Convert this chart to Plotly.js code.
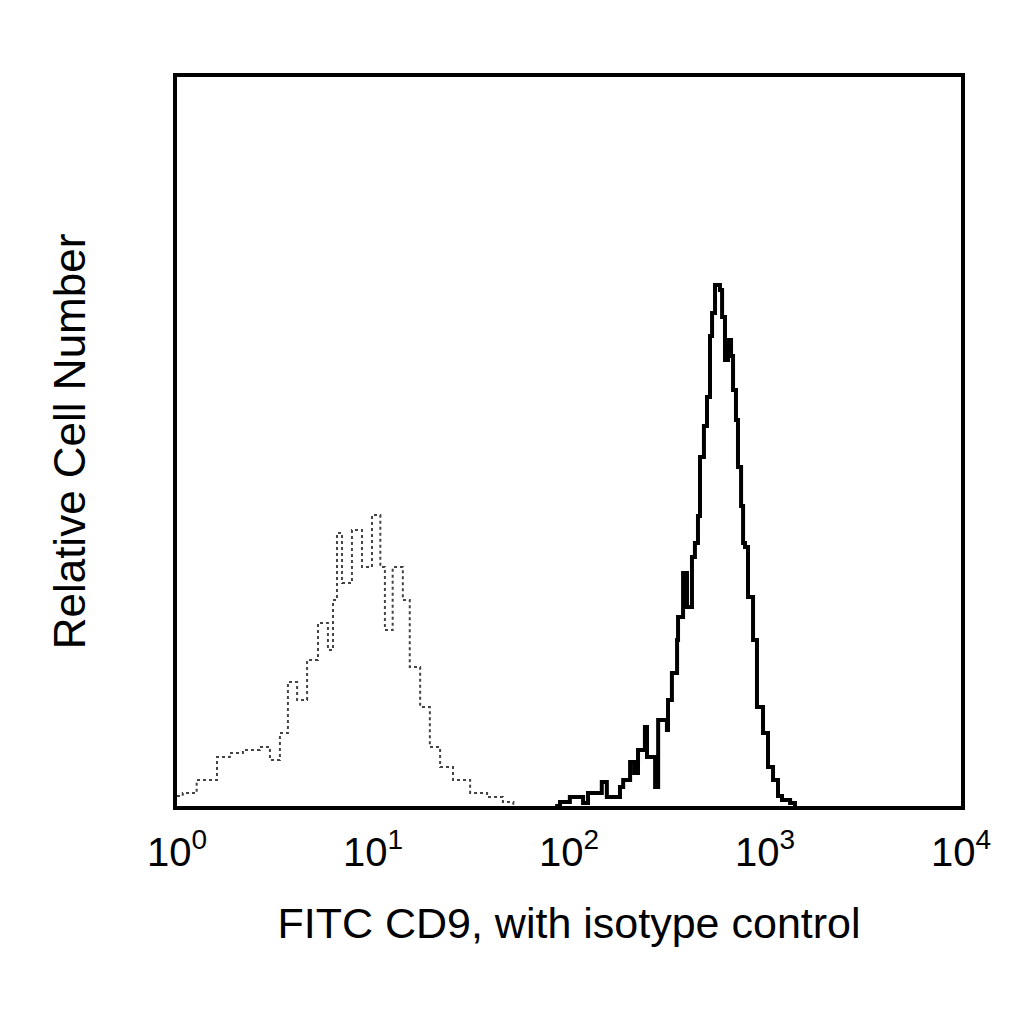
<!DOCTYPE html>
<html>
<head>
<meta charset="utf-8">
<script src="https://cdn.plot.ly/plotly-3.0.1.min.js"></script>
<style>
  body { margin: 0; background: #fff; }
  #chart { width: 1024px; height: 1024px; }
</style>
</head>
<body>
<div id="chart"></div>
<script>
// isotype control (grey, dotted)
var isoX = [1.0, 1.07, 1.26, 1.60, 1.86, 2.17, 2.65, 2.98, 3.35, 3.68, 4.10, 4.61, 5.24, 5.89,
            6.25, 6.55, 6.95, 7.81, 8.79, 9.88, 10.9, 11.5, 12.6, 14.2, 15.4, 17.4, 19.5, 22.0,
            25.6, 31.3, 38.2, 46.0, 52.0];
var isoY = [10, 13, 26, 49, 53, 56, 59, 46, 73, 124, 106, 146, 183, 156,
            206, 273, 223, 276, 239, 291, 239, 176, 239, 206, 139, 99, 59, 39,
            26, 13, 9, 4, 0];

// FITC CD9 (black)
var cd9X = [85, 90, 101, 118, 125, 147, 156, 182, 189, 205, 215, 225, 244, 250, 275, 285, 316,
            320, 335, 356, 360, 382, 400, 424, 439, 455, 466, 488, 506, 524, 537, 556, 589,
            604, 625, 648, 671, 687, 711, 728, 755, 773, 791, 819, 869, 910, 977, 1036,
            1099, 1165, 1221, 1343, 1422];
var cd9Y = [0, 4, 9, 3, 13, 24, 9, 19, 26, 44, 33, 56, 79, 49, 19, 86, 76,
            106, 133, 166, 189, 233, 199, 249, 263, 290, 349, 380, 409, 470, 493, 521, 516,
            489, 446, 466, 450, 416, 386, 339, 300, 263, 259, 209, 166, 99, 73, 39,
            26, 10, 6, 3, 0];

var tickVals = [1, 10, 100, 1000, 10000];
var tickText = ['10<sup>0</sup>', '10<sup>1</sup>', '10<sup>2</sup>', '10<sup>3</sup>', '10<sup>4</sup>'];

var isoTrace = {
  x: isoX, y: isoY, type: 'scatter', mode: 'lines',
  line: { color: '#444', width: 2, dash: 'dot', shape: 'hv' },
  hoverinfo: 'skip'
};
var cd9Trace = {
  x: cd9X, y: cd9Y, type: 'scatter', mode: 'lines',
  line: { color: '#000', width: 4, shape: 'hv' },
  hoverinfo: 'skip'
};

var layout = {
  width: 1024, height: 1024,
  margin: { l: 177, r: 63, t: 77, b: 218 },
  paper_bgcolor: '#fff', plot_bgcolor: '#fff',
  showlegend: false,
  font: { family: 'Liberation Sans, Arial, sans-serif', color: '#000' },
  xaxis: {
    type: 'log', range: [0, 4],
    tickvals: tickVals, ticktext: tickText,
    tickfont: { size: 40 }, ticks: '', ticklabelstandoff: 8,
    showgrid: false, zeroline: false,
    showline: true, mirror: true, linecolor: '#000', linewidth: 4,
    title: { text: 'FITC CD9, with isotype control', font: { size: 43 }, standoff: 36 }
  },
  yaxis: {
    range: [0, 729],
    showticklabels: false, ticks: '',
    showgrid: false, zeroline: false,
    showline: true, mirror: true, linecolor: '#000', linewidth: 4,
    title: { text: 'Relative Cell Number', font: { size: 44 }, standoff: 75 }
  }
};

Plotly.newPlot('chart', [isoTrace, cd9Trace], layout, { displayModeBar: false, staticPlot: true });
</script>
</body>
</html>
